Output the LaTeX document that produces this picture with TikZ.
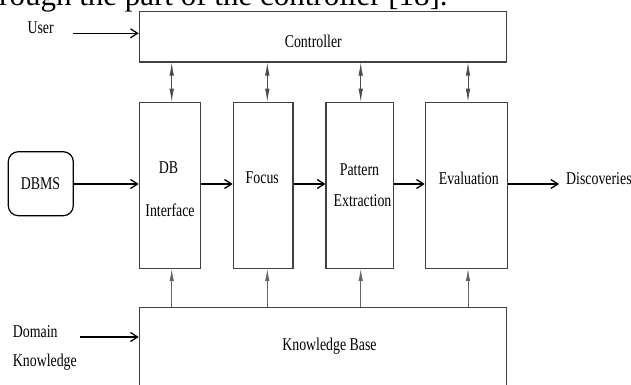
\documentclass[tikz,border=0pt]{standalone}
\usepackage{fontspec}
\setmainfont{Liberation Serif}[FakeStretch=0.77]
\newfontfamily\bodyfont{Liberation Serif}
\usetikzlibrary{arrows.meta}
\begin{document}
\begin{tikzpicture}[x=1pt,y=-1pt,
  box/.style={draw=black!75,line width=1.2pt,inner sep=0pt,rectangle},
  lbl/.style={inner sep=0pt,font=\fontsize{18}{20}\selectfont},
  flow/.style={draw=black,line width=1.3pt,-{Straight Barb[length=7pt,width=9pt,line width=1.3pt]}},
  dbl/.style={draw=black!70,line width=0.7pt,{Latex[length=13pt,width=4.5pt]}-{Latex[length=13pt,width=4.5pt]}},
  upar/.style={draw=black!60,line width=0.8pt,-{Latex[length=12pt,width=4.5pt]}}]
\useasboundingbox (0,0) rectangle (631,385);
\clip (0,0) rectangle (631,385);
\fill[white] (0,0) rectangle (631,385);
% cropped running text above the figure
\node[inner sep=0pt,anchor=base west,font=\bodyfont\fontsize{31}{34}\selectfont] (runtext) at (-1,5.5) {rough the part of the controller [18].};
% boxes
\node[box,minimum width=367.4pt,minimum height=50.3pt] (ctrl) at (323,36.85) {};
\node[box,minimum width=61.4pt,minimum height=166pt] (dbi) at (170,185.3) {};
\node[box,minimum width=59.7pt,minimum height=166pt] (foc) at (263.15,185.3) {};
\node[box,minimum width=67.3pt,minimum height=166pt] (pat) at (359.65,185.3) {};
\node[box,minimum width=82pt,minimum height=166pt] (eva) at (466.3,185.3) {};
\node[box,minimum width=367.4pt,minimum height=95pt] (kb) at (323,354.8) {};
\node[box,draw=black,rounded corners=10pt,minimum width=65pt,minimum height=64pt] (dbms) at (40.8,183.7) {};
% texts
\node[lbl,anchor=base] (ctrlt) at (313.3,47.3) {Controller};
\node[lbl,anchor=base west] (user) at (27.3,34) {User};
\node[lbl,anchor=base] (dbmst) at (40.5,189) {DBMS};
\node[lbl,anchor=base] (dbt1) at (168.5,173.6) {DB};
\node[lbl,anchor=base] (dbt2) at (170,216.5) {Interface};
\node[lbl,anchor=base] (foct) at (262.3,183.5) {Focus};
\node[lbl,anchor=base] (patt1) at (359.5,175) {Pattern};
\node[lbl,anchor=base] (patt2) at (362.5,206.5) {Extraction};
\node[lbl,anchor=base] (evat) at (468.8,184) {Evaluation};
\node[lbl,anchor=base west] (disc) at (566,184) {Discoveries};
\node[lbl,anchor=base] (kbt) at (329.5,350.5) {Knowledge Base};
\node[lbl,anchor=base west] (dom1) at (12.7,337) {Domain};
\node[lbl,anchor=base west] (dom2) at (12.7,366) {Knowledge};
% coordinates
\coordinate (rowy) at (0,184);
\coordinate (ua) at (73,33.3);
\coordinate (da) at (80,337);
\coordinate (dend) at (559,184);
\coordinate (c1) at (171.7,0);
\coordinate (c2) at (267.3,0);
\coordinate (c3) at (360.7,0);
\coordinate (c4) at (468,0);
% flow arrows
\draw[flow] (ua) -- (ua -| ctrl.west);
\draw[flow] (da) -- (da -| kb.west);
\draw[flow] (dbms.east |- rowy) -- (dbi.west |- rowy);
\draw[flow] (dbi.east |- rowy) -- (foc.west |- rowy);
\draw[flow] (foc.east |- rowy) -- (pat.west |- rowy);
\draw[flow] (pat.east |- rowy) -- (eva.west |- rowy);
\draw[flow] (eva.east |- rowy) -- (dend);
% controller links
\draw[dbl] (c1 |- ctrl.south) -- (c1 |- dbi.north);
\draw[dbl] (c2 |- ctrl.south) -- (c2 |- foc.north);
\draw[dbl] (c3 |- ctrl.south) -- (c3 |- pat.north);
\draw[dbl] (c4 |- ctrl.south) -- (c4 |- eva.north);
% knowledge base links
\draw[upar] (c1 |- kb.north) -- (c1 |- dbi.south);
\draw[upar] (c2 |- kb.north) -- (c2 |- foc.south);
\draw[upar] (c3 |- kb.north) -- (c3 |- pat.south);
\draw[upar] (c4 |- kb.north) -- (c4 |- eva.south);
\end{tikzpicture}
\end{document}
